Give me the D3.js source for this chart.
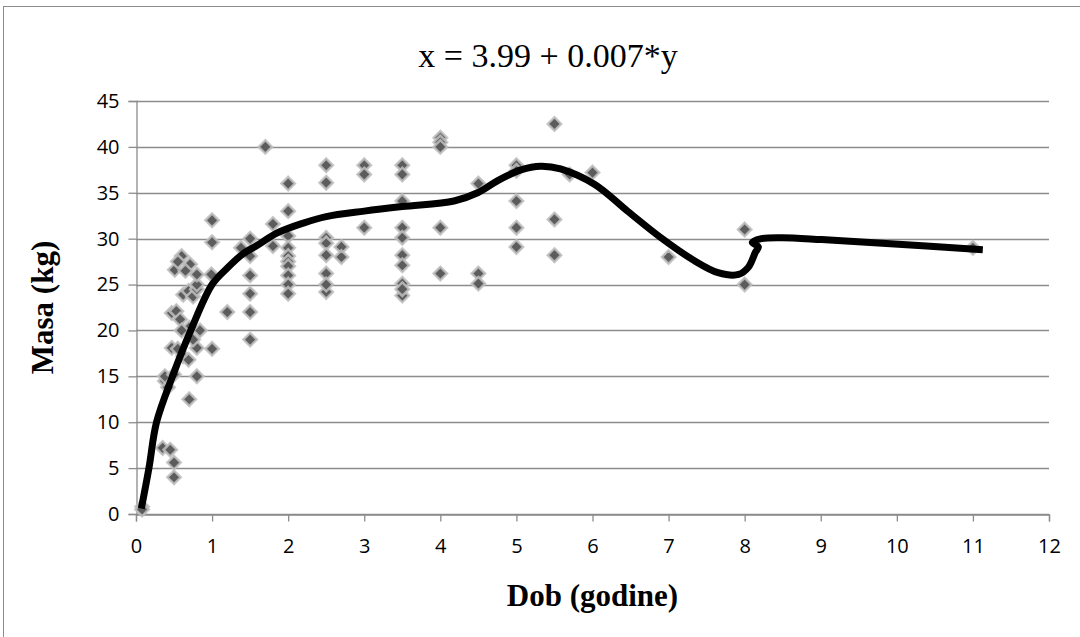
<!DOCTYPE html>
<html><head><meta charset="utf-8">
<script src="https://cdn.jsdelivr.net/npm/d3@7"></script>
<style>html,body{margin:0;padding:0;background:#fff;}svg{display:block;}</style>
</head><body>
<svg id="chart" width="1080" height="637"></svg>
<script>
const chartTitle = "x = 3.99 + 0.007*y";
const xAxisTitle = "Dob (godine)";
const yAxisTitle = "Masa (kg)";
const xTicks = [0,1,2,3,4,5,6,7,8,9,10,11,12];
const yTicks = [0,5,10,15,20,25,30,35,40,45];

// scatter: age (years) and mass (kg)
const ageValues = [
 0.08,0.08,
 0.35,0.45,0.5,0.5,
 0.38,0.42,0.38,0.5,
 0.47,0.55,0.62,0.69,
 0.7,0.8,0.8,0.75,0.84,0.7,
 0.47,0.53,0.58,0.6,
 0.62,0.69,0.75,0.8,0.8,
 0.51,0.6,0.71,0.8,0.65,0.55,
 0.99,1.0,1.0,1.0,1.2,
 1.38,1.5,1.5,1.5,1.5,1.5,1.5,
 1.7,1.8,1.8,
 2,2,2,2,2,2,2,2,2,2,
 2.5,2.5,2.5,2.5,2.5,2.5,2.5,2.5,
 2.7,2.7,
 3,3,3,
 3.5,3.5,3.5,3.5,3.5,3.5,3.5,3.5,3.5,3.5,
 4,4,4,4,4,
 4.5,4.5,4.5,
 5,5,5,5,5,
 5.5,5.5,5.5,
 5.7,6,7,8,8,11
];
const massValues = [
 0.8,0.5,
 7.2,7.0,5.6,4.0,
 14.5,13.8,15,15.2,
 18.1,18,17.2,16.8,
 12.5,15,18.1,19,20,20.3,
 21.9,22.1,21.2,20,
 23.9,24.3,23.7,24.5,25,
 26.6,28.1,27.2,26.1,26.5,27.5,
 26.1,29.6,32,18,22,
 29,30,28.1,26,24,22,19,
 40,31.6,29.2,
 36,33,30.3,29,28.1,27.5,27,26,25,24,
 38,36.1,30.1,29.5,28.2,26.2,24.2,25,
 29.1,28,
 38,37,31.2,
 38,37,34.1,31.2,30.1,28.2,27.1,25.1,23.8,24.5,
 41,40.5,40,31.2,26.2,
 36,26.2,25.1,
 38,37.4,34.1,31.2,29.1,
 42.5,32.1,28.2,
 37,37.2,28,31,25,29
];
// smoothed trend line
const trendAge = [0.07,0.17,0.27,0.48,0.72,1.0,1.2,1.4,1.6,1.85,2.2,2.5,3.0,3.5,4.18,4.49,4.75,5.06,5.32,5.58,6.03,6.46,6.9,7.34,7.65,7.92,8.05,8.14,8.18,8.1,8.22,8.49,9.01,9.81,11.13];
const trendMass = [0.6,5,10,15,20,25,26.8,28.3,29.3,30.6,31.7,32.4,33.0,33.5,34.1,35,36.3,37.5,37.9,37.6,35.9,33,30.1,27.6,26.3,26.1,26.9,28.5,29.1,29.6,30.0,30.1,29.9,29.5,28.8];

const svg = d3.select("#chart");
const W = 1080, H = 637;
const m = {left:136, right:1049, top:101, bottom:514};

// outer border
svg.append("rect").attr("x",3.5).attr("y",6.5).attr("width",W+10).attr("height",H+10)
  .attr("fill","none").attr("stroke","#8c8c8c").attr("stroke-width",1);

const x = d3.scaleLinear().domain([0,12]).range([m.left,m.right]);
const y = d3.scaleLinear().domain([0,45]).range([m.bottom,m.top]);

// gridlines
svg.append("g").selectAll("line").data(yTicks).join("line")
  .attr("x1",m.left).attr("x2",m.right)
  .attr("y1",d=>Math.round(y(d))+0.5).attr("y2",d=>Math.round(y(d))+0.5)
  .attr("stroke","#8c8c8c").attr("stroke-width",1.3);

const tickFont = "'Open Sans', 'Liberation Sans', sans-serif";
const serif = "'Liberation Serif','Times New Roman',serif";
// x axis
const xAxis = svg.append("g").attr("transform",`translate(0,${Math.round(y(0))+0.5})`)
  .call(d3.axisBottom(x).tickValues(xTicks).tickSize(7).tickPadding(17).tickFormat(d3.format("d")));
xAxis.select(".domain").attr("stroke","#8c8c8c").attr("stroke-width",1.3);
xAxis.selectAll(".tick line").attr("stroke","#8c8c8c").attr("stroke-width",1.3);
xAxis.selectAll("text").attr("font-family",tickFont).attr("font-size",20).attr("fill","#000");

// y axis
const yAxis = svg.append("g").attr("transform",`translate(${m.left+0.5},0)`)
  .call(d3.axisLeft(y).tickValues(yTicks).tickSize(8).tickPadding(9).tickFormat(d3.format("d")));
yAxis.select(".domain").attr("stroke","#8c8c8c").attr("stroke-width",1.3);
yAxis.selectAll(".tick line").attr("stroke","#8c8c8c").attr("stroke-width",1.3);
yAxis.selectAll("text").attr("font-family",tickFont).attr("font-size",20).attr("fill","#000");

// scatter points
const pts = ageValues.map((a,i)=>({a, v:massValues[i]}));
const diamond = d3.symbol().type(d3.symbolDiamond2).size(115);
svg.append("g").selectAll("path").data(pts).join("path")
  .attr("transform",d=>`translate(${x(d.a)},${y(d.v)})`)
  .attr("d",diamond)
  .attr("fill","#5c5c5c").attr("stroke","#c0c0c0").attr("stroke-width",2.5).attr("stroke-opacity",0.85);

// trend line
const trend = trendAge.map((a,i)=>[a,trendMass[i]]);
svg.append("path").datum(trend)
  .attr("d",d3.line().x(d=>x(d[0])).y(d=>y(d[1])).curve(d3.curveCatmullRom.alpha(0.5)))
  .attr("fill","none").attr("stroke","#000").attr("stroke-width",7).attr("stroke-linejoin","round");

// titles
svg.append("text").attr("x",548).attr("y",67).attr("text-anchor","middle")
  .attr("font-family",serif).attr("font-size",34).text(chartTitle);
svg.append("text").attr("x",(m.left+m.right)/2).attr("y",606).attr("text-anchor","middle")
  .attr("font-family",serif).attr("font-weight","bold").attr("font-size",31).text(xAxisTitle);
svg.append("text").attr("transform",`translate(53,${(m.top+m.bottom)/2}) rotate(-90)`).attr("text-anchor","middle")
  .attr("font-family",serif).attr("font-weight","bold").attr("font-size",31).text(yAxisTitle);
</script>
</body></html>
